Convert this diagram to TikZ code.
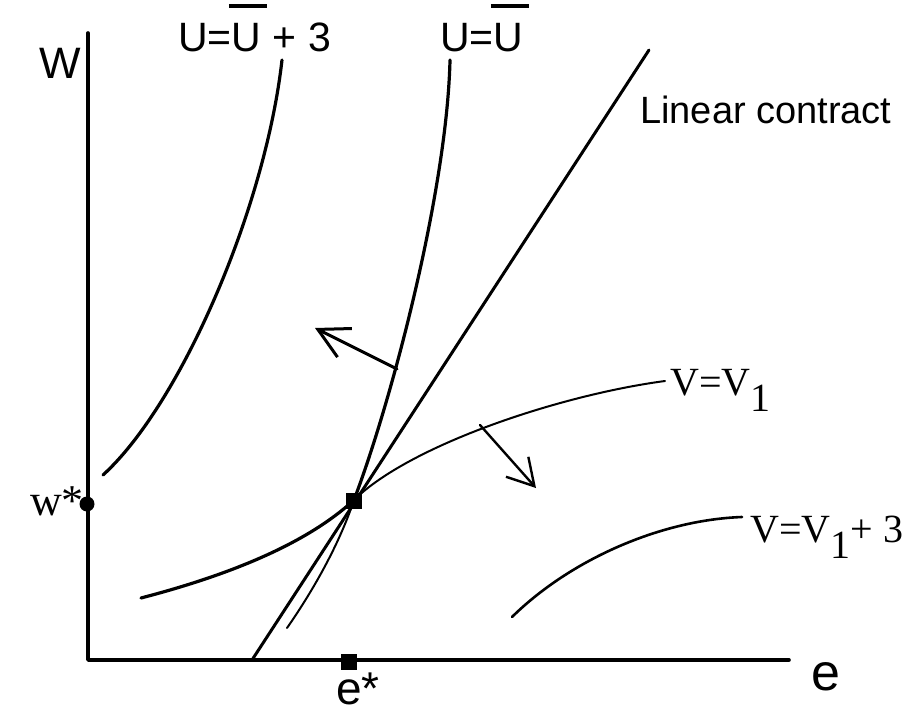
\documentclass[tikz,border=0pt]{standalone}
\usepackage{fontspec}
\setmainfont{Liberation Serif}
\setsansfont{Liberation Sans}
\usetikzlibrary{arrows.meta}
\newcommand{\ubar}{\makebox[0pt][l]{\hspace{-0.07em}\rule[1.08em]{0.92em}{0.1em}}U}
\newcommand{\lowone}{\raisebox{-0.42em}{1}}

\begin{document}
\begin{tikzpicture}[x=1pt, y=-1pt, line cap=round, line join=round,
	sanslab/.style={font=\sffamily\fontsize{#1}{#1}\selectfont, inner sep=0, anchor=base west},
	seriflab/.style={font=\fontsize{#1}{#1}\selectfont, inner sep=0, anchor=base west},
	thick curve/.style={line width=3.2},
	thin curve/.style={line width=2},
	sqdot/.style={fill, inner sep=0, minimum size=16},
	pushU/.style={line width=3, -{Straight Barb[length=30, width=32]}},
	pushV/.style={line width=2.4, -{Straight Barb[length=26, width=30]}}]
	\useasboundingbox (0, 0) rectangle (906, 712);

	\coordinate (O) at (88, 660) {};
	\coordinate (Wtop) at (88, 33) {};
	\coordinate (Eend) at (789, 660) {};
	\coordinate (L0) at (252, 660) {};
	\coordinate (L1) at (649, 50) {};

	\draw [line width=3.6] (Wtop) -- (O) -- (Eend);
	\draw [line width=3] (L0) -- (L1);

	\draw [thick curve] (103, 475) .. controls (180, 405) and (265, 210) .. (282, 60);

	\draw [thick curve] (354, 500) .. controls (392, 400) and (447, 190) .. (450, 60);
	\draw [thin curve] (287, 628) .. controls (310, 595) and (338, 548) .. (354, 500);

	\draw [thick curve] (141, 598) .. controls (210, 580) and (300, 550) .. (354, 500);
	\draw [thin curve] (354, 500) .. controls (410, 445) and (560, 395) .. (665, 381);

	\draw [line width=2.6] (512, 617) .. controls (570, 560) and (660, 520) .. (742, 517);

	\coordinate (Ufoot) at (397, 369) {};
	\coordinate (Utip) at (315, 328) {};
	\coordinate (Vfoot) at (480, 425) {};
	\coordinate (Vtip) at (536, 488) {};
	\draw [pushU] (Ufoot) -- (Utip);
	\draw [pushV] (Vfoot) -- (Vtip);

	\node [sqdot] (tangent) at (354, 501) {};
	\node [sqdot] (estar) at (349, 662) {};
	\node [fill, circle, inner sep=0, minimum size=15] (wstar) at (87, 504) {};

	\node [sanslab=44] (Wlab) at (39, 78) {W};
	\node [sanslab=52] (elab) at (811, 690) {e};
	\node [sanslab=46] (estarlab) at (336, 704) {e*};
	\node [seriflab=44] (wstarlab) at (30, 515) {w*};
	\node [sanslab=41] (U3lab) at (178, 52) {U=\ubar{} + 3};
	\node [sanslab=41] (Ulab) at (440, 52) {U=\ubar};
	\node [sanslab=38] (linlab) at (640, 123) {Linear contract};
	\node [seriflab=40] (V1lab) at (670, 395) {V=V\lowone};
	\node [seriflab=40] (V13lab) at (750, 542) {V=V\lowone+ 3};

\end{tikzpicture}
\end{document}
